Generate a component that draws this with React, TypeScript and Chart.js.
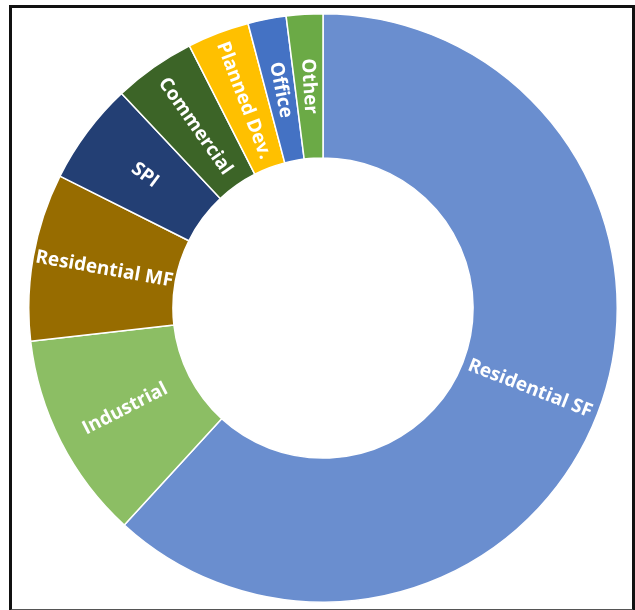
import React, { useEffect, useRef } from "react";
import { Chart, registerables } from "chart.js";

Chart.register(...registerables);

const categories = [
  "Residential SF",
  "Industrial",
  "Residential MF",
  "SPI",
  "Commercial",
  "Planned Dev.",
  "Office",
  "Other",
];
const shares = [61.8, 11.4, 9.2, 5.6, 4.5, 3.4, 2.1, 2.0];
const colors = [
  "#6A8ECF",
  "#8CBE64",
  "#976C00",
  "#233F74",
  "#3C6427",
  "#FFC000",
  "#4472C4",
  "#6BAA46",
];

const labelPlugin = {
  id: "radialLabels",
  afterDatasetsDraw(chart: any) {
    const ctx = chart.ctx;
    const meta = chart.getDatasetMeta(0);
    ctx.save();
    ctx.fillStyle = "#ffffff";
    ctx.font = "bold 19px 'Open Sans'";
    ctx.textAlign = "center";
    ctx.textBaseline = "middle";
    meta.data.forEach((arc: any, i: number) => {
      const p = arc.getProps(["x", "y", "startAngle", "endAngle", "innerRadius", "outerRadius"], true);
      const mid = (p.startAngle + p.endAngle) / 2;
      const r = (p.innerRadius + p.outerRadius) / 2;
      const x = p.x + Math.cos(mid) * r;
      const y = p.y + Math.sin(mid) * r;
      let rot = mid;
      if (Math.cos(mid) < 0) rot = mid + Math.PI;
      ctx.save();
      ctx.translate(x, y);
      ctx.rotate(rot);
      ctx.fillText(categories[i], 0, 0);
      ctx.restore();
    });
    ctx.restore();
  },
};

export default function App() {
  const ref = useRef<HTMLCanvasElement | null>(null);
  useEffect(() => {
    if (!ref.current) return;
    const chart = new Chart(ref.current, {
      type: "doughnut",
      data: {
        labels: categories,
        datasets: [
          {
            data: shares,
            backgroundColor: colors,
            borderColor: "#ffffff",
            borderWidth: 1.5,
          },
        ],
      },
      options: {
        responsive: false,
        animation: false,
        cutout: "51%",
        layout: { padding: 0 },
        plugins: {
          legend: { display: false },
          tooltip: { enabled: false },
          title: { display: false },
        },
      },
      plugins: [labelPlugin],
    });
    return () => chart.destroy();
  }, []);

  return (
    <div
      style={{
        position: "absolute",
        left: 9,
        top: 5,
        width: 626,
        height: 606,
        boxSizing: "border-box",
        border: "3px solid #111",
        borderBottom: "2px solid #555",
        background: "#fff",
      }}
    >
      <canvas
        ref={ref}
        width={590}
        height={590}
        style={{ position: "absolute", left: 16, top: 5, width: 590, height: 590 }}
      />
    </div>
  );
}
